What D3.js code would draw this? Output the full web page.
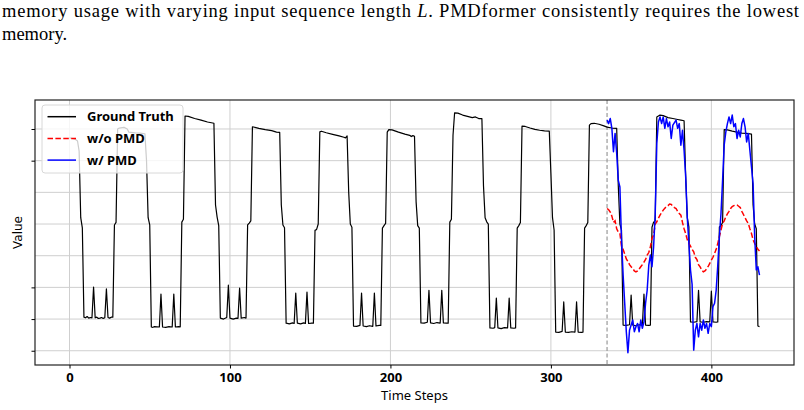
<!DOCTYPE html>
<html>
<head>
<meta charset="utf-8">
<script src="https://cdn.jsdelivr.net/npm/d3@7/dist/d3.min.js"></script>
<style>
  body { margin: 0; background: #fff; }
  svg { display: block; }
</style>
</head>
<body>
<div id="chart"></div>
<script>
/* global d3 */

// ground truth: time steps and values at each vertex of the line
var gtSteps = [
  0, 2, 4, 5, 6, 7, 8, 9, 10, 11, 12, 13, 14, 15, 16, 17, 18, 19, 20, 21, 22, 23, 24, 25, 26, 27, 28, 29,
  30, 31, 34, 36, 37, 41, 44, 47, 48, 49, 50, 51, 52, 53, 56, 57, 58, 60, 62, 64, 65, 66, 68, 69, 70, 71,
  72, 74, 78, 82, 86, 90, 91, 92, 93, 94, 96, 98, 99, 100, 102, 104, 105, 106, 107, 109, 110, 111, 112, 113,
  114, 118, 122, 126, 129, 131, 132, 133, 134, 135, 137, 139, 140, 141, 142, 144, 146, 147, 148, 149, 151, 152, 153, 154, 155,
  156, 157, 160, 164, 168, 171, 172, 173, 174, 175, 176, 177, 179, 181, 182, 183, 185, 187, 189, 190, 191, 193, 194, 195, 196, 197, 198,
  199, 201, 205, 209, 212, 213, 214, 215, 216, 217, 218, 219, 221, 223, 224, 225, 227, 229, 231, 232, 233, 235, 236, 237, 238, 239,
  240, 242, 245, 248, 251, 253, 255, 257, 258, 259, 260, 261, 262, 264, 265, 266, 267, 269, 271, 273, 274, 275, 277, 278, 279, 280, 281,
  282, 284, 287, 290, 293, 296, 299, 300, 301, 302, 303, 305, 307, 308, 309, 311, 313, 315, 316, 317, 319, 320, 321, 322, 323,
  324, 325, 327, 330, 333, 335, 338, 341, 342, 343, 344, 345, 347, 349, 350, 351, 353, 355, 357, 358, 359, 361, 362, 363, 364, 365,
  366, 368, 370, 373, 376, 379, 381, 383, 384, 385, 386, 387, 389, 391, 392, 393, 395, 397, 399, 400, 401, 403, 404, 405, 406, 407,
  408, 410, 413, 416, 419, 422, 425, 426, 427, 428, 429, 430
];
var gtValues = [
  6.72, 6.70, 6.66, 6.62, 6.30, 4.20, 3.88, 1.06, 1.04, 1.08, 1.03, 1.05, 1.04, 2.01, 1.04, 1.06, 1.02, 1.03, 1.05, 1.02, 1.04, 1.95, 1.05, 1.03, 1.06, 1.06, 3.97, 4.05,
  7.00, 7.03, 7.05, 7.00, 6.90, 6.88, 6.87, 6.85, 6.00, 4.20, 3.97, 0.75, 0.74, 0.76, 0.75, 1.79, 0.75, 0.74, 0.76, 0.75, 1.79, 0.75, 0.76, 0.75, 4.06, 4.15,
  7.41, 7.40, 7.33, 7.28, 7.22, 7.18, 4.60, 4.22, 3.95, 1.03, 1.00, 1.05, 2.07, 1.03, 1.00, 1.03, 1.02, 1.98, 1.03, 1.05, 1.03, 3.97, 4.03, 4.10,
  7.07, 7.02, 6.98, 6.95, 6.90, 6.89, 4.60, 3.97, 3.88, 0.87, 0.85, 0.88, 0.86, 1.82, 0.87, 0.85, 0.88, 0.86, 1.85, 0.86, 0.87, 0.87, 3.80, 3.83, 4.00,
  6.91, 6.93, 6.88, 6.83, 6.78, 6.74, 6.72, 6.78, 5.00, 4.00, 3.90, 0.78, 0.77, 0.80, 1.82, 0.78, 0.76, 0.79, 0.77, 1.82, 0.78, 0.80, 0.80, 3.87, 3.95, 4.02, 6.90,
  6.98, 6.97, 6.90, 6.84, 6.80, 6.76, 6.79, 6.77, 4.70, 3.95, 3.87, 0.88, 0.87, 0.90, 1.91, 0.88, 0.86, 0.89, 0.87, 1.91, 0.88, 0.87, 0.87, 4.06, 4.15, 6.80,
  7.51, 7.50, 7.44, 7.40, 7.36, 7.38, 7.33, 7.33, 5.20, 4.20, 4.07, 4.00, 0.72, 0.71, 0.73, 1.66, 0.72, 0.70, 0.73, 0.72, 1.66, 0.72, 0.71, 0.72, 3.87, 3.95, 4.05,
  7.09, 7.08, 7.03, 6.99, 6.96, 6.94, 6.93, 5.60, 4.20, 3.81, 0.59, 0.58, 0.61, 1.54, 0.59, 0.58, 0.60, 0.59, 1.54, 0.59, 0.58, 0.59, 3.87, 3.95, 4.05,
  7.12, 7.17, 7.18, 7.15, 7.10, 7.06, 7.03, 7.02, 5.20, 4.00, 3.81, 0.81, 0.80, 0.82, 1.76, 0.81, 0.79, 0.82, 0.80, 1.79, 0.81, 0.80, 0.81, 3.90, 4.06, 4.10,
  7.38, 7.44, 7.42, 7.36, 7.33, 7.30, 7.28, 7.26, 5.50, 4.20, 3.91, 0.91, 0.90, 0.92, 1.91, 0.91, 0.90, 0.92, 0.91, 1.88, 0.91, 0.90, 0.91, 3.91, 3.95, 4.05,
  6.98, 6.97, 6.93, 6.90, 6.87, 6.86, 6.84, 4.60, 4.00, 3.85, 0.78, 0.76
];

// forecasts start at this step, one value per step up to 430
var predStart = 335;
var woPmd = [
  4.49, 4.45, 4.38, 4.25, 4.05, 4.10, 3.85, 3.75, 3.70, 3.30, 3.20, 3.05, 2.90, 2.82, 2.72, 2.65,
  2.60, 2.52, 2.49, 2.52, 2.58, 2.65, 2.72, 2.80, 2.88, 3.02, 3.10, 3.28, 3.55, 3.65, 4.00, 4.07,
  4.18, 4.28, 4.36, 4.44, 4.50, 4.55, 4.58, 4.63, 4.62, 4.56, 4.52, 4.49, 4.40, 4.33, 4.28, 4.05,
  3.85, 3.70, 3.50, 3.39, 3.30, 3.20, 3.12, 2.95, 2.88, 2.72, 2.65, 2.55, 2.49, 2.52, 2.58, 2.66,
  2.76, 2.86, 2.95, 3.07, 3.20, 3.39, 3.60, 3.81, 4.02, 4.10, 4.23, 4.32, 4.40, 4.49, 4.55, 4.58,
  4.60, 4.60, 4.56, 4.52, 4.40, 4.30, 4.20, 4.10, 4.02, 3.85, 3.70, 3.50, 3.39, 3.30, 3.20, 3.15
];
var wPmd = [
  7.28, 7.17, 7.33, 7.02, 6.28, 6.86, 6.23, 5.38, 5.17, 3.50, 2.40, 1.50, 0.60, -0.06, 0.65, 0.81,
  0.97, 0.60, 0.76, 0.86, 0.60, 0.97, 0.71, 0.91, 1.50, 1.91, 2.70, 3.02, 2.65, 3.28, 4.30, 6.54,
  7.22, 7.38, 7.17, 7.38, 7.02, 7.33, 7.07, 7.22, 6.70, 7.12, 7.20, 7.28, 7.02, 7.17, 6.49, 6.96,
  6.33, 5.49, 4.20, 3.40, 2.55, 2.10, 0.02, 0.65, 0.86, 0.44, 0.86, 0.65, 0.97, 0.71, 0.86, 0.55,
  0.86, 0.76, 1.39, 1.50, 1.91, 2.70, 3.60, 4.33, 5.38, 6.50, 6.90, 7.17, 7.38, 7.17, 7.44, 7.07,
  7.17, 6.70, 6.96, 6.75, 7.17, 7.33, 7.07, 6.59, 6.86, 6.33, 5.80, 5.28, 3.60, 2.55, 2.65, 2.39
];

var xTicks = [0, 100, 200, 300, 400];
var yGrid = [0, 1, 2, 3, 4, 5, 6, 7];
var yTickMarks = [0, 1, 2, 6, 7];

var legendItems = [
  {name: 'Ground Truth', color: '#000', dash: null},
  {name: 'w/o PMD', color: 'red', dash: '5.5,2.4'},
  {name: 'w/ PMD', color: 'blue', dash: null}
];

var comic = "'Comic Sans MS', 'Noto Sans', sans-serif";

var svg = d3.select('#chart').append('svg')
  .attr('width', 804)
  .attr('height', 410);

// caption text above the figure
var cap = svg.append('g').style('font-family', "'Liberation Serif', 'Times New Roman', serif")
  .style('font-size', '18.5px').style('fill', '#000');
var line1 = cap.append('text').attr('x', 2).attr('y', 17)
  .attr('textLength', 797).attr('lengthAdjust', 'spacing');
line1.append('tspan').text('memory usage with varying input sequence length ');
line1.append('tspan').style('font-style', 'italic').text('L');
line1.append('tspan').text('. PMDformer consistently requires the lowest');
cap.append('text').attr('x', 2).attr('y', 40).text('memory.');

var pad = {left: 35, right: 794, top: 100, bottom: 365};

var x = d3.scaleLinear().domain([-21.5, 451.5]).range([pad.left, pad.right]);
var y = d3.scaleLinear().domain([-0.45, 7.915]).range([pad.bottom, pad.top]);

// grid
svg.append('g').selectAll('line').data(xTicks).enter().append('line')
  .attr('x1', function(d){ return x(d); }).attr('x2', function(d){ return x(d); })
  .attr('y1', pad.top).attr('y2', pad.bottom)
  .style('stroke', '#cfcfcf').style('stroke-width', 1);
svg.append('g').selectAll('line').data(yGrid).enter().append('line')
  .attr('x1', pad.left).attr('x2', pad.right)
  .attr('y1', function(d){ return y(d); }).attr('y2', function(d){ return y(d); })
  .style('stroke', '#cfcfcf').style('stroke-width', 1);

// forecast start marker
svg.append('line')
  .attr('x1', x(predStart)).attr('x2', x(predStart))
  .attr('y1', pad.top).attr('y2', pad.bottom)
  .style('stroke', '#999').style('stroke-width', 1.2).style('stroke-dasharray', '4,2.5');

var line = d3.line()
  .x(function(d){ return x(d[0]); })
  .y(function(d){ return y(d[1]); });

var gt = gtSteps.map(function(t, i){ return [t, gtValues[i]]; });
var wo = woPmd.map(function(v, i){ return [predStart + i, v]; });
var w = wPmd.map(function(v, i){ return [predStart + i, v]; });

var plot = svg.append('g');
plot.append('path').datum(gt).attr('d', line)
  .style('fill', 'none').style('stroke', '#000').style('stroke-width', 1.2)
  .style('stroke-linejoin', 'round');
plot.append('path').datum(wo).attr('d', line)
  .style('fill', 'none').style('stroke', 'red').style('stroke-width', 1.5)
  .style('stroke-dasharray', '5.5,2.4');
plot.append('path').datum(w).attr('d', line)
  .style('fill', 'none').style('stroke', 'blue').style('stroke-width', 1.5)
  .style('stroke-linejoin', 'round');

// frame
svg.append('rect')
  .attr('x', pad.left).attr('y', pad.top)
  .attr('width', pad.right - pad.left).attr('height', pad.bottom - pad.top)
  .style('fill', 'none').style('stroke', '#222').style('stroke-width', 1.2);

// x axis ticks and labels
var xa = svg.append('g').attr('transform', 'translate(0,' + pad.bottom + ')')
  .call(d3.axisBottom(x).tickValues(xTicks).tickSize(3.5).tickPadding(4));
xa.select('.domain').remove();
xa.selectAll('text').style('font-family', comic).style('font-weight', 'bold')
  .style('font-size', '13px').style('fill', '#000');

// y axis: tick marks only
var ya = svg.append('g').attr('transform', 'translate(' + pad.left + ',0)')
  .call(d3.axisLeft(y).tickValues(yTickMarks).tickSize(3.5).tickFormat(''));
ya.select('.domain').remove();

svg.append('text')
  .attr('x', (pad.left + pad.right) / 2).attr('y', 400)
  .style('text-anchor', 'middle').style('font-family', comic)
  .style('font-size', '13px').text('Time Steps');

svg.append('text')
  .attr('transform', 'translate(22,' + ((pad.top + pad.bottom) / 2) + ') rotate(-90)')
  .style('text-anchor', 'middle').style('font-family', "'DejaVu Sans', sans-serif")
  .style('font-size', '12px').text('Value');

// legend
var lg = svg.append('g');
lg.append('rect')
  .attr('x', 42).attr('y', 105).attr('width', 141).attr('height', 68).attr('rx', 3)
  .style('fill', '#fff').style('fill-opacity', 0.8)
  .style('stroke', '#d8d8d8').style('stroke-width', 1);
legendItems.forEach(function(d, i){
  var ly = 116.7 + i * 21.7;
  lg.append('line').attr('x1', 47.5).attr('x2', 76).attr('y1', ly).attr('y2', ly)
    .style('stroke', d.color).style('stroke-width', 1.5)
    .style('stroke-dasharray', d.dash);
  lg.append('text').attr('x', 87).attr('y', ly + 4.5)
    .style('font-family', comic).style('font-weight', 'bold').style('font-size', '13px')
    .text(d.name);
});
</script>
</body>
</html>
